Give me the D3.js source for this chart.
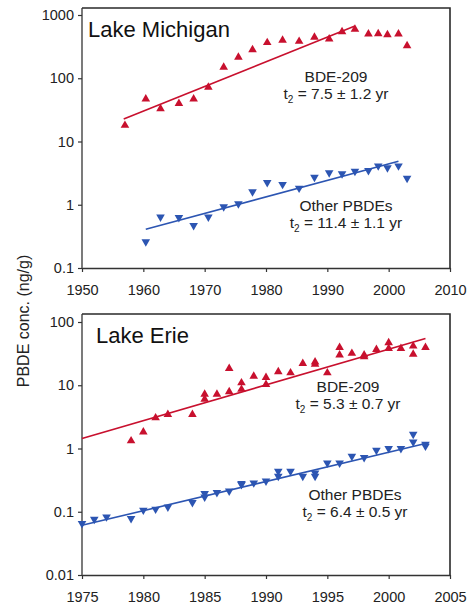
<!DOCTYPE html>
<html>
<head>
<meta charset="utf-8">
<script src="https://cdn.jsdelivr.net/npm/d3@7"></script>
<style>
  body { margin: 0; background: #fff; }
  svg { font-family: "Liberation Sans", Arial, sans-serif; }
</style>
</head>
<body>
<div id="chart"></div>
<script>
// Lake Michigan
const michYearsBde = [1957, 1960.4, 1962.8, 1965.8, 1968.2, 1970.6, 1973.1, 1975.5, 1977.8, 1980.2, 1982.7, 1985.4, 1987.9, 1990.3, 1992.4, 1994.5, 1996.7, 1998.3, 1999.8, 2001.6, 2003];
const michBde = [18, 47, 33, 40, 47, 72, 149, 215, 283, 366, 398, 383, 445, 418, 545, 594, 501, 505, 489, 501, 327];
const michYearsOther = [1960.4, 1962.8, 1965.8, 1968.2, 1970.6, 1973.1, 1975.5, 1977.8, 1980.2, 1982.7, 1985.4, 1987.9, 1990.3, 1992.4, 1994.5, 1996.7, 1998.3, 1999.8, 2001.6, 2003];
const michOther = [0.26, 0.64, 0.63, 0.47, 0.64, 0.93, 1.04, 1.6, 2.25, 2.1, 1.83, 2.72, 3.2, 3.1, 3.39, 3.47, 4.12, 3.84, 4.12, 2.63];
const michTrendBde = [[1956.8, 22.7], [1994.5, 670]];
const michTrendOther = [[1960.4, 0.41], [2001.6, 4.88]];

// Lake Erie
const erieYearsBde = [1979, 1980, 1981, 1982, 1984, 1985, 1985, 1986, 1987, 1987, 1988, 1988, 1989, 1990, 1990, 1991, 1992, 1993, 1994, 1994, 1995, 1996, 1996, 1997, 1998, 1998, 1999, 2000, 2000, 2001, 2002, 2002, 2003];
const erieBde = [1.32, 1.83, 3.05, 3.45, 3.45, 7.2, 6.0, 7.2, 7.9, 18.4, 8.6, 10.9, 13.9, 10.3, 13.3, 16.3, 15.7, 22.1, 23.4, 21.5, 15.7, 39.6, 30, 31.9, 30, 28.2, 36.8, 46.9, 38.2, 38, 41.6, 31, 39.6];
const erieYearsOther = [1975, 1976, 1977, 1979, 1980, 1981, 1982, 1984, 1985, 1985, 1986, 1987, 1988, 1988, 1989, 1990, 1991, 1991, 1992, 1993, 1994, 1994, 1995, 1996, 1997, 1998, 1999, 2000, 2001, 2002, 2002, 2003, 2003];
const erieOther = [0.065, 0.076, 0.083, 0.078, 0.106, 0.11, 0.119, 0.14, 0.194, 0.171, 0.201, 0.213, 0.279, 0.27, 0.286, 0.307, 0.437, 0.365, 0.437, 0.365, 0.41, 0.365, 0.59, 0.59, 0.755, 0.72, 0.94, 1.0, 1.0, 1.27, 1.68, 1.09, 1.17];
const erieTrendBde = [[1975, 1.44], [2003, 55]];
const erieTrendOther = [[1975, 0.061], [2003, 1.2]];

const michXTicks = [1950, 1960, 1970, 1980, 1990, 2000, 2010];
const michYTicks = [0.1, 1, 10, 100, 1000];
const erieXTicks = [1975, 1980, 1985, 1990, 1995, 2000, 2005];
const erieYTicks = [0.01, 0.1, 1, 10, 100];

const red = "#c8102e", blue = "#2c55b2";
const W = 470, H = 608;

const svg = d3.select("#chart").append("svg")
  .attr("width", W).attr("height", H);

function fmt(v) {
  return v < 1 ? String(v) : d3.format("d")(v);
}

function panel(opts) {
  const x = d3.scaleLinear().domain(opts.xDomain).range([82, 450]);
  const y = d3.scaleLog().domain(opts.yDomain).range([opts.bottom, opts.topTick]);
  const g = svg.append("g");

  // frame (top + right)
  g.append("path")
    .attr("d", `M82,${opts.frameTop}H450V${opts.bottom}`)
    .attr("fill", "none").attr("stroke", "#2a2a2a").attr("stroke-width", 1.6);

  const xAxis = g.append("g")
    .attr("transform", `translate(0,${opts.bottom})`)
    .call(d3.axisBottom(x).tickValues(opts.xTicks).tickFormat(d3.format("d")).tickSize(4).tickSizeOuter(0));
  const yAxis = g.append("g")
    .attr("transform", "translate(82,0)")
    .call(d3.axisLeft(y).tickValues(opts.yTicks).tickFormat(fmt).tickSize(4).tickSizeOuter(0));
  yAxis.select(".domain").attr("d", `M0,${opts.frameTop}V${opts.bottom}`);
  [xAxis, yAxis].forEach(a => {
    a.select(".domain").attr("stroke", "#333").attr("stroke-width", 1.3);
    a.selectAll(".tick line").attr("stroke", "#333").attr("stroke-width", 1.2);
    a.selectAll(".tick text").attr("font-size", 14.5).attr("fill", "#222")
      .attr("font-family", "Liberation Sans, Arial, sans-serif");
  });
  xAxis.selectAll(".tick text").attr("dy", "1.4em");
  yAxis.selectAll(".tick text").attr("x", -8);

  const line = d3.line().x(d => x(d[0])).y(d => y(d[1]));
  g.append("path").datum(opts.trendBde).attr("d", line)
    .attr("stroke", red).attr("stroke-width", 1.6).attr("fill", "none");
  g.append("path").datum(opts.trendOther).attr("d", line)
    .attr("stroke", blue).attr("stroke-width", 1.6).attr("fill", "none");

  const up = d3.symbol().type(d3.symbolTriangle).size(32);
  g.selectAll(".bde").data(opts.bde).join("path")
    .attr("d", up)
    .attr("transform", (d, i) => `translate(${x(opts.yearsBde[i])},${y(d)})`)
    .attr("fill", red);
  g.selectAll(".oth").data(opts.other).join("path")
    .attr("d", up)
    .attr("transform", (d, i) => `translate(${x(opts.yearsOther[i])},${y(d)}) rotate(180)`)
    .attr("fill", blue);

  g.append("text").attr("x", opts.title[1]).attr("y", opts.title[2])
    .attr("font-size", 22).attr("fill", "#111").text(opts.title[0]);

  opts.labels.forEach(([name, t, cx, by]) => {
    g.append("text").attr("x", cx).attr("y", by).attr("text-anchor", "middle")
      .attr("font-size", 15.5).attr("fill", "#222").text(name);
    const tt = g.append("text").attr("x", cx).attr("y", by + 17).attr("text-anchor", "middle")
      .attr("font-size", 15.5).attr("fill", "#222");
    tt.append("tspan").text("t");
    tt.append("tspan").attr("font-size", 10).attr("dy", 4).text("2");
    tt.append("tspan").attr("dy", -4).text(" = " + t + " yr");
  });
}

panel({
  xDomain: [1950, 2010], yDomain: [0.1, 1000], xTicks: michXTicks, yTicks: michYTicks,
  bottom: 268, topTick: 15, frameTop: 8,
  yearsBde: michYearsBde, bde: michBde, yearsOther: michYearsOther, other: michOther,
  trendBde: michTrendBde, trendOther: michTrendOther,
  title: ["Lake Michigan", 88, 37],
  labels: [["BDE-209", "7.5 ± 1.2", 336, 82], ["Other PBDEs", "11.4 ± 1.1", 346, 211]]
});

panel({
  xDomain: [1975, 2005], yDomain: [0.01, 100], xTicks: erieXTicks, yTicks: erieYTicks,
  bottom: 575, topTick: 322, frameTop: 314,
  yearsBde: erieYearsBde, bde: erieBde, yearsOther: erieYearsOther, other: erieOther,
  trendBde: erieTrendBde, trendOther: erieTrendOther,
  title: ["Lake Erie", 96, 343],
  labels: [["BDE-209", "5.3 ± 0.7", 348, 392], ["Other PBDEs", "6.4 ± 0.5", 355, 500]]
});

svg.append("text")
  .attr("transform", "translate(29,321) rotate(-90)")
  .attr("text-anchor", "middle")
  .attr("font-size", 16).attr("fill", "#222")
  .text("PBDE conc. (ng/g)");
</script>
</body>
</html>
